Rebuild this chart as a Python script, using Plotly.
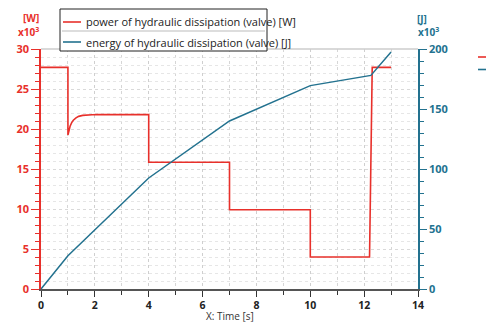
import plotly.graph_objects as go

# Hydraulic dissipation in the valve (values in units of 10^3)
time_power = [0, 1.0, 1.0, 1.04, 1.08, 1.14, 1.2, 1.3, 1.4, 1.55, 1.7, 1.9, 2.1, 4.0, 4.0, 7.0, 7.0, 10.0, 10.0, 12.2, 12.3, 13.0]
power_kw = [27.7, 27.7, 19.25, 19.9, 20.35, 20.8, 21.1, 21.4, 21.58, 21.7, 21.76, 21.79, 21.8, 21.8, 15.85, 15.85, 9.9, 9.9, 4.0, 4.0, 27.7, 27.7]

time_energy = [0, 1.0, 4.0, 7.0, 10.0, 12.25, 13.0]
energy_kj = [0, 27.7, 92.5, 140.0, 169.5, 178.0, 197.5]

x_ticks = [0, 2, 4, 6, 8, 10, 12, 14]
power_ticks = [0, 5, 10, 15, 20, 25, 30]
energy_ticks = [0, 50, 100, 150, 200]

RED = "#e8302b"
TEAL = "#23728f"
FONT = "Open Sans"

W, H = 486, 322
ML, MR, MT, MB = 41, 68, 49, 33
PW, PH = W - ML - MR, H - MT - MB


def px(x):
    return (x - ML) / PW


def py(y):
    return (H - MB - y) / PH


fig = go.Figure()
fig.add_trace(go.Scatter(x=time_power, y=power_kw, mode="lines",
                         line=dict(color=RED, width=1.6),
                         name="power of hydraulic dissipation (valve) [W]",
                         showlegend=False))
fig.add_trace(go.Scatter(x=time_energy, y=energy_kj, mode="lines", yaxis="y2",
                         line=dict(color=TEAL, width=1.5),
                         name="energy of hydraulic dissipation (valve) [J]",
                         showlegend=False))

fig.update_layout(
    width=W, height=H,
    margin=dict(l=ML, r=MR, t=MT, b=MB),
    paper_bgcolor="white", plot_bgcolor="white",
    font=dict(family=FONT, size=11, color="#222"),
    xaxis=dict(range=[0, 14], tickvals=x_ticks, ticks="outside", ticklen=6,
               tickcolor="#333", tickwidth=1, automargin=False,
               showline=True, linecolor="#555", linewidth=2,
               tickfont=dict(family=FONT, size=10.5, color="#222", weight="bold"),
               ticklabelstandoff=-1,
               zeroline=False,
               showgrid=True, gridcolor="#cfcfcf", griddash="dot", gridwidth=1,
               minor=dict(dtick=1, ticks="outside", ticklen=4, tickcolor="#333",
                          showgrid=True, gridcolor="#d6d6d6", griddash="dot")),
    yaxis=dict(range=[0, 30], tickvals=power_ticks, ticks="outside", ticklen=8,
               tickcolor=RED, tickwidth=1.3, automargin=False,
               showline=True, linecolor=RED, linewidth=1.5,
               tickfont=dict(family=FONT, size=11, color=RED, weight="bold"),
               zeroline=False,
               showgrid=True, gridcolor="#d9d9d9", griddash="dot", gridwidth=1,
               minor=dict(dtick=1, ticks="outside", ticklen=4, tickcolor=RED,
                          showgrid=True, gridcolor="#e6e6e6", griddash="dot")),
    yaxis2=dict(range=[0, 200], tickvals=energy_ticks, overlaying="y", side="right",
                ticks="outside", ticklen=7, tickcolor=TEAL, tickwidth=1.3,
                automargin=False,
                showline=True, linecolor=TEAL, linewidth=1.5,
                tickfont=dict(family=FONT, size=11, color=TEAL, weight="bold"),
                showgrid=False, zeroline=False,
                minor=dict(dtick=10, ticks="outside", ticklen=4, tickcolor=TEAL)),
)

shapes = []
# top frame line of the plot area
shapes.append(dict(type="line", xref="paper", yref="paper", x0=0, x1=1, y0=1, y1=1,
                   line=dict(color="#cccccc", width=1.5)))
# legend box
shapes.append(dict(type="rect", xref="paper", yref="paper",
                   x0=px(60), x1=px(267), y0=py(51), y1=py(9),
                   fillcolor="white", line=dict(color="#222", width=1), layer="above"))
shapes.append(dict(type="line", xref="paper", yref="paper",
                   x0=px(62), x1=px(265), y0=py(31), y1=py(31),
                   line=dict(color="#bbbbbb", width=1), layer="above"))
shapes.append(dict(type="line", xref="paper", yref="paper",
                   x0=px(63), x1=px(81), y0=py(22), y1=py(22),
                   line=dict(color=RED, width=1.6), layer="above"))
shapes.append(dict(type="line", xref="paper", yref="paper",
                   x0=px(63), x1=px(81), y0=py(42), y1=py(42),
                   line=dict(color=TEAL, width=1.6), layer="above"))
# legend markers at the right edge
shapes.append(dict(type="line", xref="paper", yref="paper",
                   x0=px(478), x1=px(487), y0=py(57), y1=py(57),
                   line=dict(color=RED, width=1.6)))
shapes.append(dict(type="line", xref="paper", yref="paper",
                   x0=px(478), x1=px(487), y0=py(69.5), y1=py(69.5),
                   line=dict(color=TEAL, width=1.6)))

annotations = [
    dict(text="power of hydraulic dissipation (valve) [W]", xref="paper", yref="paper",
         x=px(84), y=py(22), xanchor="left", yanchor="middle", showarrow=False,
         font=dict(family=FONT, size=11, color="#222")),
    dict(text="energy of hydraulic dissipation (valve) [J]", xref="paper", yref="paper",
         x=px(84), y=py(42), xanchor="left", yanchor="middle", showarrow=False,
         font=dict(family=FONT, size=11, color="#222")),
    dict(text="X: Time [s]", xref="paper", yref="paper", x=0.5, y=py(315.5),
         xanchor="center", yanchor="middle", showarrow=False,
         font=dict(family=FONT, size=10, color="#333")),
    dict(text="[W]", xref="paper", yref="paper", x=px(31), y=py(18),
         xanchor="center", yanchor="middle", showarrow=False,
         font=dict(family=FONT, size=10, color=RED, weight="bold")),
    dict(text="x10<sup>3</sup>", xref="paper", yref="paper", x=px(28), y=py(32),
         xanchor="center", yanchor="middle", showarrow=False,
         font=dict(family=FONT, size=10, color=RED, weight="bold")),
    dict(text="[J]", xref="paper", yref="paper", x=px(422), y=py(19),
         xanchor="center", yanchor="middle", showarrow=False,
         font=dict(family=FONT, size=10, color=TEAL, weight="bold")),
    dict(text="x10<sup>3</sup>", xref="paper", yref="paper", x=px(428), y=py(32),
         xanchor="center", yanchor="middle", showarrow=False,
         font=dict(family=FONT, size=10, color=TEAL, weight="bold")),
]

fig.update_layout(shapes=shapes, annotations=annotations)
fig.write_html("out.html")
